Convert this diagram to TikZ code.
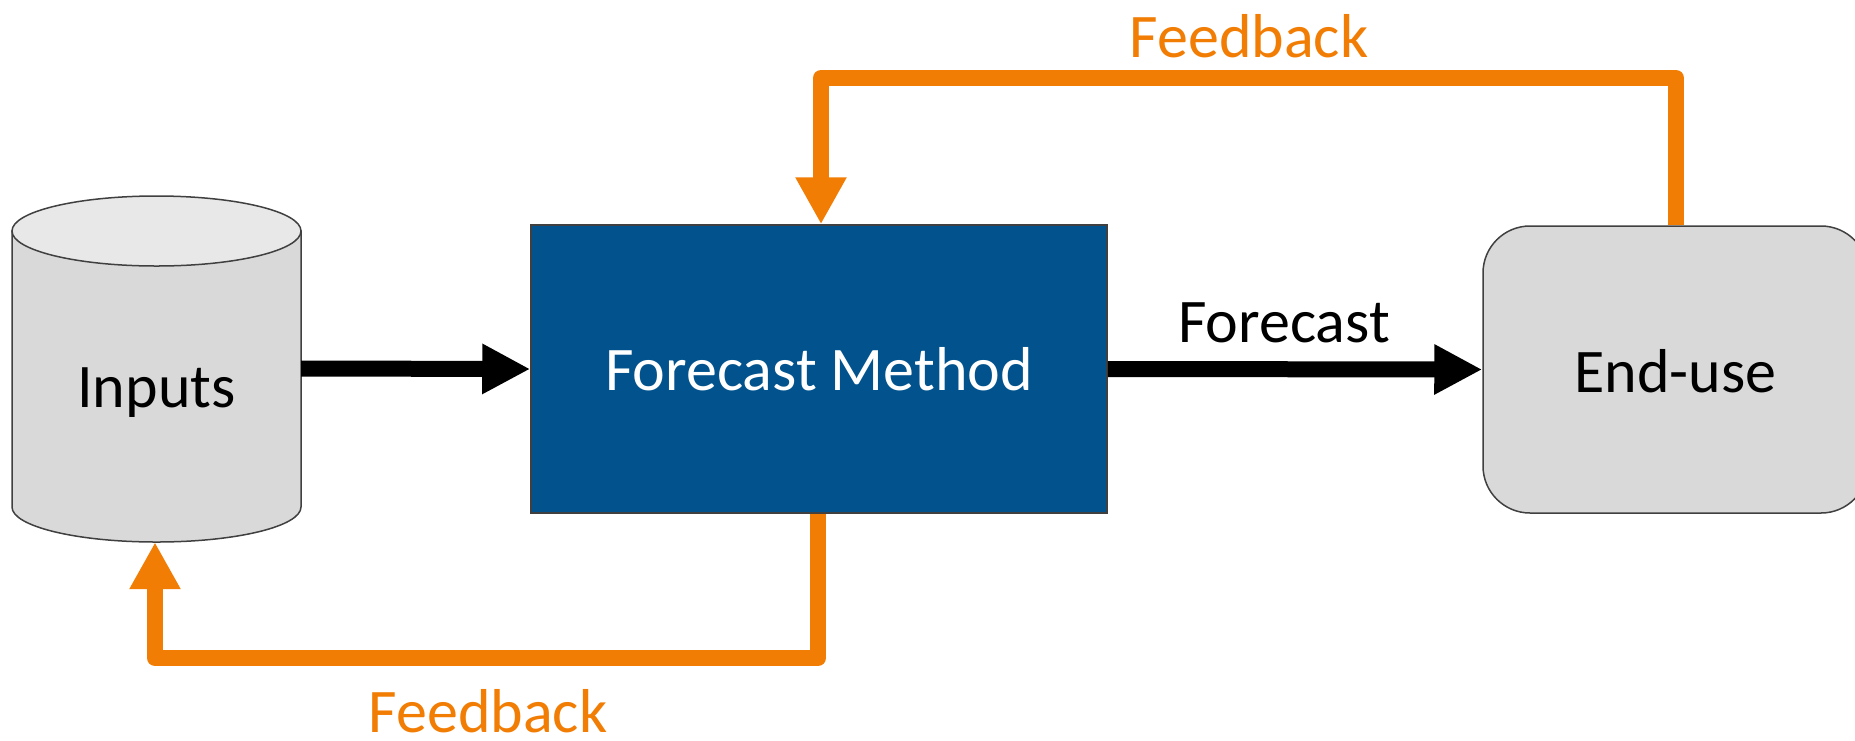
\documentclass[tikz,border=0pt]{standalone}
\usepackage{fontspec}
\setmainfont{Carlito}
\usetikzlibrary{arrows.meta}
\definecolor{fborange}{RGB}{242,125,5}
\definecolor{fmblue}{RGB}{2,83,141}
\definecolor{boxgray}{RGB}{217,217,217}
\definecolor{topgray}{RGB}{232,232,232}
\definecolor{edgegray}{RGB}{64,64,64}
\tikzset{
  txt/.style={font=\fontsize{62}{70}\selectfont},
  outl/.style={draw=edgegray, line width=1.5pt},
  flow/.style={line width=16pt, -{Triangle[length=48pt, width=47pt]}},
  fb/.style={draw=fborange, line width=16pt, line join=round, color=fborange,
    -{Triangle[length=47pt, width=48pt]}},
  fblbl/.style={txt, text=fborange, anchor=base, inner sep=0pt}
}
\begin{document}
\begin{tikzpicture}[x=1pt, y=-1pt]
\clip (0,0) rectangle (1855,740);
\fill[white] (0,0) rectangle (1855,740);
% cylinder (Inputs)
\path[fill=boxgray, outl] (12,231) -- (12,507)
  arc[start angle=180, end angle=0, x radius=144.5, y radius=35] -- (301,231) -- cycle;
\path[fill=topgray, outl] (156.5,231) ellipse [x radius=144.5, y radius=35];
\node[txt, minimum width=289pt, minimum height=347pt, inner sep=0pt,
  text height=77pt, text depth=0pt] (inputs) at (156.5,368.5) {Inputs};
% Forecast Method
\node[txt, fill=fmblue, outl, text=white, minimum width=576pt, minimum height=288pt,
  inner sep=0pt, text height=42pt, text depth=0pt] (method) at (819,369) {Forecast Method};
% End-use
\node[txt, fill=boxgray, outl, rounded corners=47pt, minimum width=385pt,
  minimum height=287pt, inner sep=0pt, text height=45pt, text depth=0pt]
  (enduse) at (1675.5,369.5) {End-use};
% main arrows
\draw[flow] (inputs.east) -- (method.west);
\draw[flow] (method.east) -- (enduse.west);
\node[txt, anchor=base, inner sep=0pt] (fclbl) at (1284,342) {Forecast};
% feedback loops
\coordinate (ta) at (1676,78);
\coordinate (tb) at (821,78);
\draw[fb] (ta |- enduse.north) -- (ta) -- (tb) -- (tb |- method.north);
\coordinate (ba) at (818,658);
\coordinate (bb) at (155,658);
\draw[fb] (ba |- method.south) -- (ba) -- (bb) -- (bb |- inputs.south);
\node[fblbl] (fbtop) at (1249,57) {Feedback};
\node[fblbl] (fbbot) at (488,732) {Feedback};
\end{tikzpicture}
\end{document}
